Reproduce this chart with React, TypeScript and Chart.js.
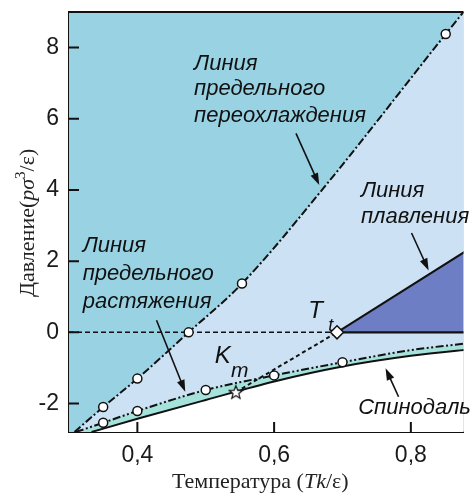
import React, { useEffect, useRef } from 'react';
import { Chart, registerables } from 'chart.js';

Chart.register(...registerables);

// ---- axis ticks ----
const X_TICKS = [0.4, 0.6, 0.8];
const Y_TICKS = [-2, 0, 2, 4, 6, 8];
const X_MIN = 0.3;
const X_MAX = 0.877;
const Y_MIN = -2.8;
const Y_MAX = 9;

// ---- curves (T = Tk/ε, P = pσ³/ε) ----
const supercoolT = [0.308, 0.35, 0.4, 0.475, 0.553, 0.673, 0.851, 0.9];
const supercoolP = [-2.8, -2.1, -1.3, 0, 1.37, 4.07, 8.38, 9.55];
const supercoolMarkT = [0.35, 0.4, 0.475, 0.553, 0.851];
const supercoolMarkP = [-2.1, -1.3, 0, 1.37, 8.38];

const tensionT = [0.31, 0.35, 0.4, 0.5, 0.6, 0.7, 0.8, 0.9];
const tensionP = [-2.8, -2.54, -2.21, -1.62, -1.21, -0.84, -0.5, -0.27];
const tensionMarkT = [0.35, 0.4, 0.5, 0.6, 0.7];
const tensionMarkP = [-2.54, -2.21, -1.62, -1.21, -0.84];

const spinodalT = [0.333, 0.4, 0.5, 0.6, 0.7, 0.8, 0.9];
const spinodalP = [-2.8, -2.43, -1.9, -1.38, -0.96, -0.66, -0.45];

const meltT = [0.692, 0.9];
const meltP = [0, 2.52];

const tripleT = [0.692];
const tripleP = [0];
const kmT = [0.544];
const kmP = [-1.68];

const metaT = [0.544, 0.692];
const metaP = [-1.68, 0];

const zeroDashT = [0.3, 0.692];
const zeroSolidT = [0.692, 0.9];
const zeroP = [0, 0];

// ---- colours ----
const TEAL = '#99d3e3';
const LIGHT = '#cde1f4';
const CYAN = '#a6e2dc';
const DARK = '#6d7ec4';
const INK = '#111111';

const SANS = '"Liberation Sans", Arial, sans-serif';
const SERIF = '"Liberation Serif", "Times New Roman", serif';

const pts = (xs: number[], ys: number[]) => xs.map((x, i) => ({ x, y: ys[i] }));

// annotations (data coordinates: left x, baseline y)
const noteLines = [
  { x: 0.483, y: 7.37, text: 'Линия' },
  { x: 0.483, y: 6.66, text: 'предельного' },
  { x: 0.483, y: 5.91, text: 'переохлаждения' },
  { x: 0.727, y: 3.81, text: 'Линия' },
  { x: 0.727, y: 3.07, text: 'плавления' },
  { x: 0.32, y: 2.25, text: 'Линия' },
  { x: 0.32, y: 1.47, text: 'предельного' },
  { x: 0.32, y: 0.68, text: 'растяжения' },
  { x: 0.723, y: -2.3, text: 'Спинодаль' },
];
const arrows = [
  [0.632, 5.59, 0.666, 4.14],
  [0.801, 2.79, 0.826, 1.74],
  [0.428, 0.34, 0.47, -1.67],
  [0.782, -1.81, 0.763, -1.01],
];

function makeStar() {
  const c = document.createElement('canvas');
  c.width = 16;
  c.height = 16;
  const g = c.getContext('2d')!;
  g.beginPath();
  for (let i = 0; i < 10; i++) {
    const r = i % 2 === 0 ? 7 : 3;
    const a = -Math.PI / 2 + (i * Math.PI) / 5;
    const x = 8 + r * Math.cos(a);
    const y = 8.5 + r * Math.sin(a);
    if (i) g.lineTo(x, y);
    else g.moveTo(x, y);
  }
  g.closePath();
  g.fillStyle = '#fff';
  g.fill();
  g.lineWidth = 1.2;
  g.strokeStyle = INK;
  g.stroke();
  return c;
}

function drawArrow(ctx: CanvasRenderingContext2D, x1: number, y1: number, x2: number, y2: number) {
  const ang = Math.atan2(y2 - y1, x2 - x1);
  const hl = 12;
  const hw = 4;
  const c = Math.cos(ang);
  const s = Math.sin(ang);
  ctx.beginPath();
  ctx.moveTo(x1, y1);
  ctx.lineTo(x2 - hl * 0.7 * c, y2 - hl * 0.7 * s);
  ctx.stroke();
  ctx.beginPath();
  ctx.moveTo(x2, y2);
  ctx.lineTo(x2 - hl * c + hw * s, y2 - hl * s - hw * c);
  ctx.lineTo(x2 - hl * c - hw * s, y2 - hl * s + hw * c);
  ctx.closePath();
  ctx.fill();
}

function drawSegments(ctx: CanvasRenderingContext2D, segs: { t: string; f: string; dy?: number }[], x: number, y: number) {
  let cx = x;
  for (const s of segs) {
    ctx.font = s.f;
    ctx.fillText(s.t, cx, y + (s.dy || 0));
    cx += ctx.measureText(s.t).width;
  }
}

const bgPlugin = {
  id: 'bgFill',
  beforeDatasetsDraw(chart: any) {
    const { ctx, chartArea: a } = chart;
    ctx.save();
    ctx.fillStyle = TEAL;
    ctx.fillRect(a.left, a.top, a.right - a.left, a.bottom - a.top);
    ctx.restore();
  },
};

const notesPlugin = {
  id: 'notes',
  afterDraw(chart: any) {
    const { ctx, chartArea: a, scales } = chart;
    const xs = scales.x;
    const ys = scales.y;
    const px = (v: number) => xs.getPixelForValue(v);
    const py = (v: number) => ys.getPixelForValue(v);
    ctx.save();
    ctx.fillStyle = INK;
    ctx.strokeStyle = INK;
    ctx.textAlign = 'left';
    ctx.textBaseline = 'alphabetic';

    // annotation text
    ctx.font = `italic 22px ${SANS}`;
    for (const n of noteLines) ctx.fillText(n.text, px(n.x), py(n.y));
    ctx.font = `italic 24px ${SANS}`;
    ctx.fillText('T', px(0.65), py(0.4));
    ctx.fillText('K', px(0.513), py(-0.87));
    ctx.font = `italic 18px ${SANS}`;
    ctx.fillText('t', px(0.679), py(0.03));
    ctx.font = `italic 21px ${SANS}`;
    ctx.fillText('m', px(0.537), py(-1.26));

    // arrows
    ctx.lineWidth = 1.6;
    for (const [x1, y1, x2, y2] of arrows) drawArrow(ctx, px(x1), py(y1), px(x2), py(y2));

    // inward tick marks
    ctx.lineWidth = 2;
    ctx.beginPath();
    for (const t of xs.ticks) {
      const x = px(t.value);
      ctx.moveTo(x, a.bottom);
      ctx.lineTo(x, a.bottom - 10);
    }
    for (const t of ys.ticks) {
      const y = py(t.value);
      ctx.moveTo(a.left, y);
      ctx.lineTo(a.left + 10, y);
    }
    ctx.stroke();

    // top frame
    ctx.beginPath();
    ctx.moveTo(a.left - 1, a.top);
    ctx.lineTo(a.right, a.top);
    ctx.stroke();

    // axis titles
    ctx.fillStyle = '#222';
    const norm = `22px ${SERIF}`;
    const ital = `italic 22px ${SERIF}`;
    drawSegments(
      ctx,
      [
        { t: 'Температура (', f: norm },
        { t: 'Tk', f: ital },
        { t: '/ε)', f: norm },
      ],
      172,
      488
    );
    ctx.save();
    ctx.translate(34, 297);
    ctx.rotate(-Math.PI / 2);
    drawSegments(
      ctx,
      [
        { t: 'Давление(', f: norm },
        { t: 'pσ', f: ital },
        { t: '3', f: `15px ${SERIF}`, dy: -9 },
        { t: '/ε)', f: norm },
      ],
      0,
      0
    );
    ctx.restore();
    ctx.restore();
  },
};

export default function App() {
  const ref = useRef<HTMLCanvasElement>(null);

  useEffect(() => {
    document.body.style.margin = '0';
    document.body.style.overflow = 'hidden';
    const canvas = ref.current!;
    const star = makeStar();
    const none = 'rgba(0,0,0,0)';
    const fillDs = (data: any, color: string, fill: any, order: number, mono = true) => ({
      data,
      fill,
      backgroundColor: color,
      borderColor: none,
      borderWidth: 0,
      pointRadius: 0,
      cubicInterpolationMode: mono ? 'monotone' : 'default',
      order,
    });
    const lineDs = (data: any, width: number, dash: number[], order: number, mono = false) => ({
      data,
      fill: false,
      borderColor: INK,
      borderWidth: width,
      borderDash: dash,
      pointRadius: 0,
      cubicInterpolationMode: mono ? 'monotone' : 'default',
      order,
    });
    const markDs = (data: any, style: any, radius: number, order: number) => ({
      data,
      showLine: false,
      pointStyle: style,
      pointRadius: radius,
      pointBackgroundColor: '#fff',
      pointBorderColor: INK,
      pointBorderWidth: 1.5,
      order,
    });

    const chart = new Chart(canvas, {
      type: 'line',
      data: {
        datasets: [
          fillDs(pts(supercoolT, supercoolP), LIGHT, 'start', 100),
          fillDs(pts(tensionT, tensionP), CYAN, 'start', 99),
          fillDs(pts(spinodalT, spinodalP), '#ffffff', 'start', 98),
          fillDs(pts(meltT, meltP), DARK, { value: 0 }, 97, false),
          lineDs(pts(zeroDashT, zeroP), 1.5, [5, 3], 50),
          lineDs(pts(zeroSolidT, zeroP), 2.2, [], 49),
          lineDs(pts(meltT, meltP), 2, [], 48),
          lineDs(pts(metaT, metaP), 2, [4, 3], 47),
          lineDs(pts(supercoolT, supercoolP), 2, [8, 2.5, 2, 2.5], 46, true),
          lineDs(pts(tensionT, tensionP), 2, [8, 2.5, 2, 2.5, 2, 2.5], 45, true),
          lineDs(pts(spinodalT, spinodalP), 2, [], 44, true),
          markDs(pts(supercoolMarkT, supercoolMarkP), 'circle', 4.5, 10),
          markDs(pts(tensionMarkT, tensionMarkP), 'circle', 4.5, 9),
          markDs(pts(tripleT, tripleP), 'rectRot', 6.5, 5),
          markDs(pts(kmT, kmP), star, 8, 4),
        ] as any,
      },
      options: {
        responsive: false,
        animation: false,
        layout: { padding: { top: 12, right: 0, left: 0, bottom: 0 } },
        plugins: { legend: { display: false }, tooltip: { enabled: false } },
        scales: {
          x: {
            type: 'linear',
            min: X_MIN,
            max: X_MAX,
            z: 1,
            afterBuildTicks: (s: any) => {
              s.ticks = X_TICKS.map((v) => ({ value: v }));
            },
            afterFit: (s: any) => {
              s.height = 70;
              s.paddingLeft = 0;
              s.paddingRight = 0;
            },
            grid: { display: false, drawTicks: false },
            border: { display: true, width: 2, color: INK },
            ticks: {
              autoSkip: false,
              maxRotation: 0,
              padding: 10,
              color: '#1a1a1a',
              font: { size: 23, family: SANS },
              callback: (v: any) => Number(v).toFixed(1).replace('.', ','),
            },
          },
          y: {
            type: 'linear',
            min: Y_MIN,
            max: Y_MAX,
            z: 1,
            afterBuildTicks: (s: any) => {
              s.ticks = Y_TICKS.map((v) => ({ value: v }));
            },
            afterFit: (s: any) => {
              s.width = 69;
              s.paddingTop = 0;
              s.paddingBottom = 0;
            },
            grid: { display: false, drawTicks: false },
            border: { display: true, width: 2, color: INK },
            ticks: {
              autoSkip: false,
              padding: 10,
              color: '#1a1a1a',
              font: { size: 23, family: SANS },
              callback: (v: any) => String(v),
            },
          },
        },
      } as any,
      plugins: [bgPlugin, notesPlugin],
    });
    return () => chart.destroy();
  }, []);

  return (
    <div style={{ width: 473, height: 502, overflow: 'hidden' }}>
      <canvas ref={ref} width={473} height={502} style={{ display: 'block' }} />
    </div>
  );
}
